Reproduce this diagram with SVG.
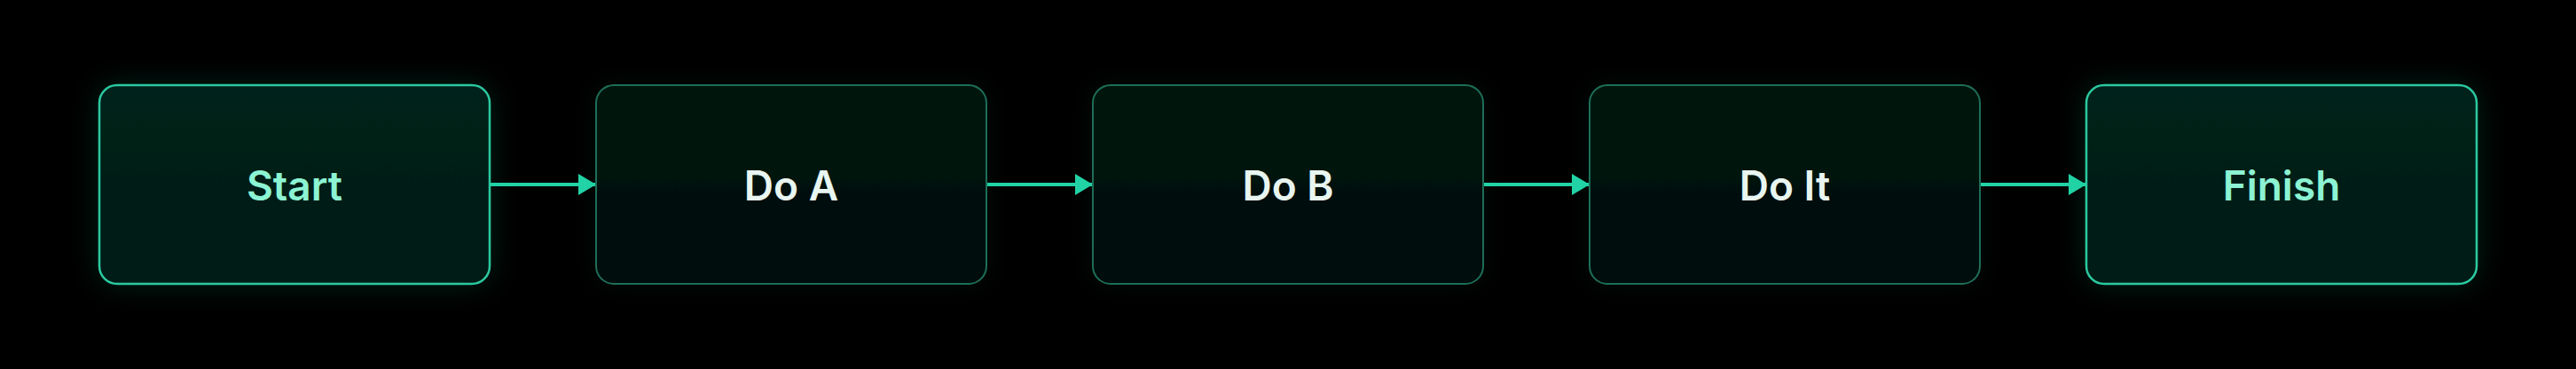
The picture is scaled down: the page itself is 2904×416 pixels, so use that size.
<svg xmlns="http://www.w3.org/2000/svg" width="2904" height="416" viewBox="0 0 2904 416">
  <defs>
    <linearGradient id="gMid" x1="0" y1="0" x2="0" y2="1">
      <stop offset="0" stop-color="#04170f"/>
      <stop offset="1" stop-color="#030c0a"/>
    </linearGradient>
    <linearGradient id="gEnd" x1="0" y1="0" x2="0" y2="1">
      <stop offset="0" stop-color="#05211a"/>
      <stop offset="1" stop-color="#041d16"/>
    </linearGradient>
    <filter id="glowStrong" x="-20%" y="-40%" width="140%" height="180%">
      <feGaussianBlur in="SourceAlpha" stdDeviation="16" result="b"/>
      <feFlood flood-color="#10b981" flood-opacity="0.18"/>
      <feComposite in2="b" operator="in" result="g"/>
      <feMerge><feMergeNode in="g"/><feMergeNode in="SourceGraphic"/></feMerge>
    </filter>
    <filter id="glowSoft" x="-20%" y="-40%" width="140%" height="180%">
      <feGaussianBlur in="SourceAlpha" stdDeviation="14" result="b"/>
      <feFlood flood-color="#10b981" flood-opacity="0.07"/>
      <feComposite in2="b" operator="in" result="g"/>
      <feMerge><feMergeNode in="g"/><feMergeNode in="SourceGraphic"/></feMerge>
    </filter>
    <marker id="arrow" markerWidth="20" markerHeight="24" refX="20" refY="12" orient="auto" markerUnits="userSpaceOnUse">
      <path d="M0,0 L20,12 L0,24 Z" fill="#22d3a6"/>
    </marker>
  </defs>
  <style>
    .box-end { fill: url(#gEnd); stroke: #2cc9a0; stroke-width: 2.5; filter: url(#glowStrong); }
    .box-mid { fill: url(#gMid); stroke: #1f6e58; stroke-width: 2; filter: url(#glowSoft); }
    .lbl { font-family: Inter, "Noto Sans", "Liberation Sans", sans-serif; font-size: 46px; font-weight: 600; text-anchor: middle; }
    .lbl-end { fill: #8cf3d3; }
    .lbl-mid { fill: #e8f5f0; }
    .edge { stroke: #22d3a6; stroke-width: 4; fill: none; marker-end: url(#arrow); }
  </style>
  <rect width="2904" height="416" fill="#000000"/>
  <g id="connectors">
    <line class="edge" x1="552" y1="208" x2="672" y2="208"/>
    <line class="edge" x1="1112" y1="208" x2="1232" y2="208"/>
    <line class="edge" x1="1672" y1="208" x2="1792" y2="208"/>
    <line class="edge" x1="2232" y1="208" x2="2352" y2="208"/>
  </g>
  <g id="start">
    <rect class="box-end" x="112" y="96" width="440" height="224" rx="20"/>
    <text class="lbl lbl-end" x="332" y="226">Start</text>
  </g>
  <g id="doA">
    <rect class="box-mid" x="672" y="96" width="440" height="224" rx="20"/>
    <text class="lbl lbl-mid" x="892" y="226">Do A</text>
  </g>
  <g id="doB">
    <rect class="box-mid" x="1232" y="96" width="440" height="224" rx="20"/>
    <text class="lbl lbl-mid" x="1452" y="226">Do B</text>
  </g>
  <g id="doIt">
    <rect class="box-mid" x="1792" y="96" width="440" height="224" rx="20"/>
    <text class="lbl lbl-mid" x="2012" y="226">Do It</text>
  </g>
  <g id="finish">
    <rect class="box-end" x="2352" y="96" width="440" height="224" rx="20"/>
    <text class="lbl lbl-end" x="2572" y="226">Finish</text>
  </g>
</svg>
